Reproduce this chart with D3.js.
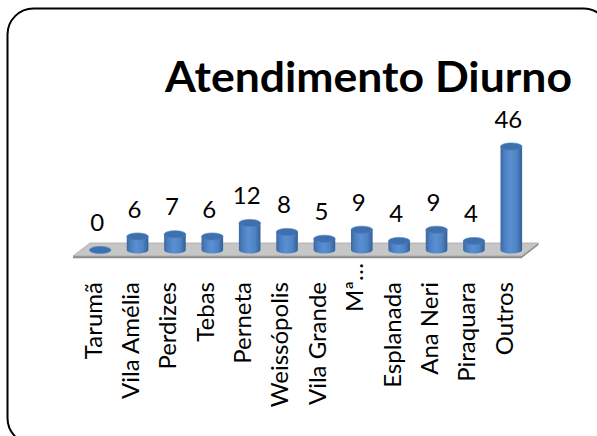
<!DOCTYPE html>
<html>
<head>
<meta charset="utf-8">
<script src="https://cdn.jsdelivr.net/npm/d3@7"></script>
<style>
  html, body { margin: 0; padding: 0; background: #fff; }
  svg { display: block; }
</style>
</head>
<body>
<div id="chart"></div>
<script>
const categories = ["Tarumã", "Vila Amélia", "Perdizes", "Tebas", "Perneta", "Weissópolis",
  "Vila Grande", "Mª…", "Esplanada", "Ana Neri", "Piraquara", "Outros"];
const values = [0, 6, 7, 6, 12, 8, 5, 9, 4, 9, 4, 46];
const title = "Atendimento Diurno";

const width = 597, height = 436;

const svg = d3.select("#chart").append("svg")
    .attr("width", width)
    .attr("height", height);

// outer rounded frame (runs off the right and bottom edges)
svg.append("rect")
    .attr("x", 7.5).attr("y", 8.5)
    .attr("width", 602).attr("height", 435.5)
    .attr("rx", 26).attr("ry", 26)
    .attr("fill", "#fff")
    .attr("stroke", "#000")
    .attr("stroke-width", 2);

svg.append("text")
    .attr("x", 165).attr("y", 92)
    .attr("textLength", 407)
    .attr("lengthAdjust", "spacingAndGlyphs")
    .style("font-family", "Lato, 'Open Sans', sans-serif")
    .style("font-weight", "bold")
    .style("font-size", "42px")
    .attr("fill", "#000")
    .text(title);

// scales: band midline of the 3d floor, y for cylinder heights
const x = d3.scaleBand().domain(categories).range([81.5, 530]);
const y = d3.scaleLinear().domain([0, 46]).range([250, 146.5]);
const cx = d => x(d) + x.bandwidth() / 2;

const depthX = 8.5, depthY = 6.5;
const baseY = y(0) - 0.5;
const [x0, x1] = x.range();

// floor: thin dark front/right edge, then the top face
const floorPts = [
  [x0 + depthX, baseY - depthY],
  [x1 + depthX, baseY - depthY],
  [x1 - depthX, baseY + depthY],
  [x0 - depthX, baseY + depthY]
];
svg.append("path")
    .attr("d", `M${x0 - depthX},${baseY + depthY}L${x1 - depthX},${baseY + depthY}L${x1 + depthX},${baseY - depthY}L${x1 + depthX},${baseY - depthY + 2}L${x1 - depthX},${baseY + depthY + 2.2}L${x0 - depthX},${baseY + depthY + 2.2}Z`)
    .attr("fill", "#8c8c8c");
svg.append("path")
    .attr("d", "M" + floorPts.join("L") + "Z")
    .attr("fill", "#c6c6c6")
    .attr("stroke", "#a8a8a8")
    .attr("stroke-width", 0.8);

// cylinder shading
const defs = svg.append("defs");
const grad = defs.append("linearGradient").attr("id", "cyl")
    .attr("x1", "0%").attr("x2", "100%").attr("y1", "0%").attr("y2", "0%");
[["0%", "#3a68a3"], ["18%", "#4c7fc0"], ["45%", "#5a8fd1"], ["75%", "#4f83c4"], ["100%", "#335f98"]]
  .forEach(([o, c]) => grad.append("stop").attr("offset", o).attr("stop-color", c));

const r = 10.8, ry = 3.6;
const bars = svg.append("g").selectAll("g")
  .data(categories.map((c, i) => ({ c, v: values[i] })))
  .join("g");

bars.filter(d => d.v > 0).append("path")
    .attr("d", d => {
      const c = cx(d.c), top = y(d.v), bot = y(0);
      return `M${c - r},${top}L${c - r},${bot}A${r},${ry} 0 0 0 ${c + r},${bot}L${c + r},${top}Z`;
    })
    .attr("fill", "url(#cyl)");

bars.append("ellipse")
    .attr("cx", d => cx(d.c))
    .attr("cy", d => y(d.v))
    .attr("rx", r).attr("ry", ry)
    .attr("fill", "#3f70ae")
    .attr("stroke", "#4a7dbc")
    .attr("stroke-width", 0.6);

// value labels
bars.append("text")
    .attr("x", d => cx(d.c) - 3)
    .attr("y", d => y(d.v) - 19)
    .attr("text-anchor", "middle")
    .style("font-family", "Lato, 'Open Sans', sans-serif")
    .style("font-size", "24px")
    .attr("fill", "#000")
    .text(d => d.v);

// category labels, rotated; the truncated one sits higher like in the original
svg.append("g").selectAll("text")
  .data(categories)
  .join("text")
    .attr("transform", d => `translate(${cx(d) - 7},${d.endsWith("…") ? 263 : 282}) rotate(-90)`)
    .attr("text-anchor", "end")
    .attr("dy", "0.35em")
    .style("font-family", "Lato, 'Open Sans', sans-serif")
    .style("font-size", "24px")
    .attr("fill", "#000")
    .text(d => d);
</script>
</body>
</html>
